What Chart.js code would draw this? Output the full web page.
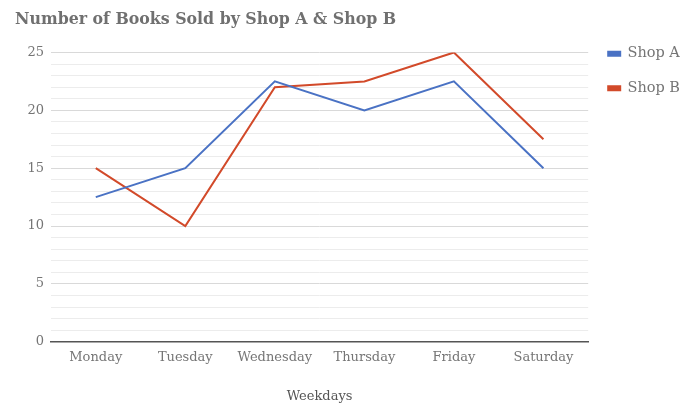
<!DOCTYPE html>
<html>
<head>
<meta charset="utf-8">
<script src="https://cdn.jsdelivr.net/npm/chart.js@4"></script>
<style>
  html, body { margin: 0; padding: 0; background: #fff; }
  #wrap { width: 699px; height: 403px; }
</style>
</head>
<body>
<div id="wrap"><canvas id="chart1"></canvas></div>
<script>
const weekdays = ["Monday", "Tuesday", "Wednesday", "Thursday", "Friday", "Saturday"];
const shopA = [12.5, 15, 22.5, 20, 22.5, 15];
const shopB = [15, 10, 22, 22.5, 25, 17.5];
const seriesNames = ["Shop A", "Shop B"];

const serif = "'DejaVu Serif', serif";

// Graphique linéaire
const chart1 = new Chart(document.getElementById("chart1"), {
  type: "line",
  data: {
    labels: weekdays,
    datasets: [{
      label: seriesNames[0],
      data: shopA,
      borderColor: '#4a72c4',
      backgroundColor: '#4a72c4',
      borderWidth: 2,
      pointRadius: 0,
      tension: 0
    }, {
      label: seriesNames[1],
      data: shopB,
      borderColor: '#d24a2a',
      backgroundColor: '#d24a2a',
      borderWidth: 2,
      pointRadius: 0,
      tension: 0
    }]
  },
  options: {
    responsive: true,
    maintainAspectRatio: false,
    animation: false,
    layout: { padding: { left: 15, right: 9, top: 4, bottom: -5 } },
    plugins: {
      title: {
        display: true,
        text: "Number of Books Sold by Shop A & Shop B",
        align: 'start',
        color: '#707070',
        font: { family: serif, size: 15.8, weight: 'bold' },
        padding: { top: 6, bottom: 23.5 }
      },
      legend: {
        position: 'right',
        align: 'start',
        title: { display: true, text: ' ', padding: 4 },
        labels: {
          color: '#757575',
          font: { family: serif, size: 14.5 },
          boxWidth: 12,
          boxHeight: 4,
          padding: 20
        }
      },
      tooltip: { enabled: false }
    },
    scales: {
      x: {
        offset: true,
        grid: { display: false, drawTicks: false },
        border: { color: '#555', width: 1.5 },
        ticks: { color: '#757575', font: { family: serif, size: 13 }, padding: 8 },
        title: {
          display: true,
          text: "Weekdays",
          color: '#555',
          font: { family: serif, size: 13 },
          padding: { top: 15 }
        }
      },
      y: {
        min: 0,
        max: 25,
        border: { display: false },
        afterFit: function(scale) { scale.width = 36; },
        grid: {
          drawTicks: false,
          color: function(context) {
            return context.tick.value % 5 === 0 ? '#d9d9d9' : '#ececec';
          }
        },
        ticks: {
          stepSize: 1,
          autoSkip: false,
          color: '#757575',
          font: { family: serif, size: 13 },
          padding: 7,
          callback: function(value) {
            return value % 5 === 0 ? value : '';
          }
        }
      }
    }
  }
});
</script>
</body>
</html>
